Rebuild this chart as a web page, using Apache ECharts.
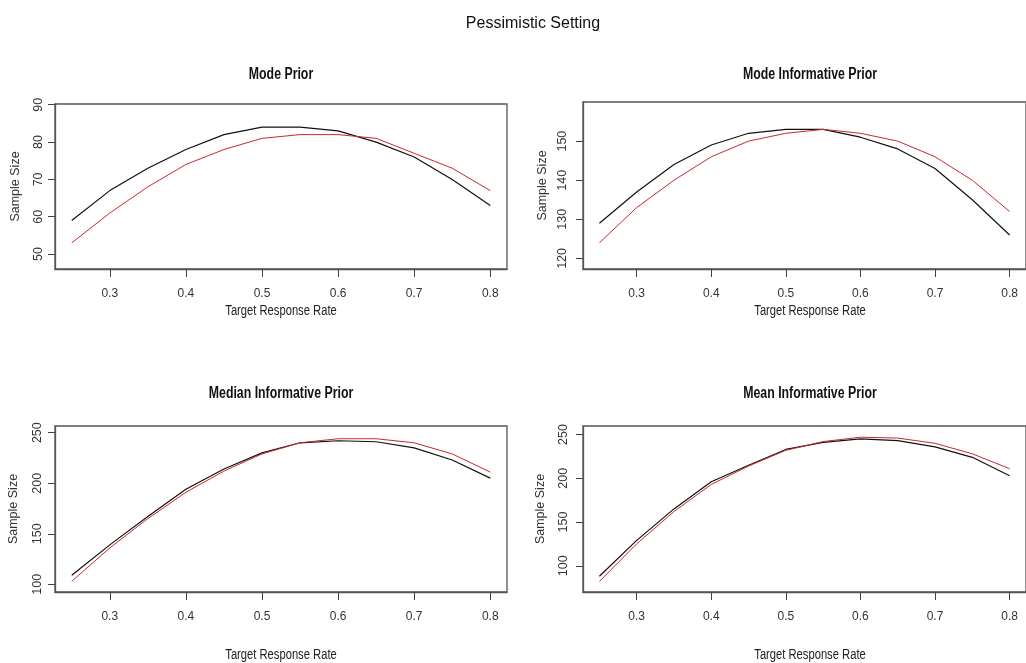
<!DOCTYPE html>
<html>
<head>
<meta charset="utf-8">
<script src="https://cdn.jsdelivr.net/npm/echarts@6/dist/echarts.min.js"></script>
<style>
html,body{margin:0;padding:0;background:#fff;}
#c{width:1026px;height:663px;}
</style>
</head>
<body>
<div id="c"></div>
<script>
// ---- data ----
const rates = [0.25, 0.30, 0.35, 0.40, 0.45, 0.50, 0.55, 0.60, 0.65, 0.70, 0.75, 0.80];
const xTicks = [0.3, 0.4, 0.5, 0.6, 0.7, 0.8];

const modeBlack = [59, 67, 73, 78, 82, 84, 84, 83, 80, 76, 70, 63];
const modeRed   = [53, 61, 68, 74, 78, 81, 82, 82, 81, 77, 73, 67];

const modeInfBlack = [129, 137, 144, 149, 152, 153, 153, 151, 148, 143, 135, 126];
const modeInfRed   = [124, 133, 140, 146, 150, 152, 153, 152, 150, 146, 140, 132];

const medianInfBlack = [109, 139, 167, 194, 214, 230, 240, 242, 241, 235, 223, 205];
const medianInfRed   = [103, 136, 165, 191, 212, 229, 240, 244, 244, 240, 229, 211];

const meanInfBlack = [88, 129, 165, 196, 215, 233, 241, 245, 243, 236, 224, 203];
const meanInfRed   = [82, 125, 162, 193, 214, 232, 242, 247, 246, 240, 228, 211];

const mainTitle = 'Pessimistic Setting';
const panelTitles = ['Mode Prior', 'Mode Informative Prior', 'Median Informative Prior', 'Mean Informative Prior'];
const yTicks = [[50, 60, 70, 80, 90], [120, 130, 140, 150], [100, 150, 200, 250], [100, 150, 200, 250]];
const xName = 'Target Response Rate';
const yName = 'Sample Size';

// ---- layout ----
const panels = [
  {black: modeBlack, red: modeRed, left: 55, top: 104, width: 452, height: 165, ymin: 46, ymax: 90.2, cx: 281, titleY: 75, xNameY: 311, lblMargin: 10, nameGap: 33},
  {black: modeInfBlack, red: modeInfRed, left: 583, top: 102, width: 451, height: 167, ymin: 117.3, ymax: 160, cx: 810, titleY: 75, xNameY: 311, lblMargin: 14, nameGap: 34},
  {black: medianInfBlack, red: medianInfRed, left: 55, top: 426, width: 452, height: 166, ymin: 92.4, ymax: 256.6, cx: 281, titleY: 394, xNameY: 655, lblMargin: 11, nameGap: 35},
  {black: meanInfBlack, red: meanInfRed, left: 583, top: 426, width: 451, height: 166, ymin: 70, ymax: 259.8, cx: 810, titleY: 394, xNameY: 655, lblMargin: 13, nameGap: 36}
];

const REG = '"Liberation Sans", Arial, sans-serif';
const AX = '#444';

const grid = [], xAxis = [], yAxis = [], series = [];
const graphic = [{
  type: 'text', x: 533, y: 24, silent: true,
  style: {text: mainTitle, font: '16px ' + REG, fill: '#111', align: 'center', verticalAlign: 'middle'}
}];

panels.forEach((p, i) => {
  grid.push({left: p.left, top: p.top, width: p.width, height: p.height, show: true, borderColor: '#555', borderWidth: 1.3, backgroundColor: 'transparent', containLabel: false});
  graphic.push({
    type: 'text', x: p.cx, y: p.titleY, scaleX: 0.77, silent: true,
    style: {text: panelTitles[i], font: 'bold 16px ' + REG, fill: '#111', align: 'center', verticalAlign: 'middle'}
  });
  graphic.push({
    type: 'text', x: p.cx, y: p.xNameY, scaleX: 0.8, silent: true,
    style: {text: xName, font: '14px ' + REG, fill: '#222', align: 'center', verticalAlign: 'middle'}
  });
  xAxis.push({
    type: 'value', gridIndex: i, min: 0.228, max: 0.822,
    axisLine: {show: true, onZero: false, lineStyle: {color: '#555', width: 1.3}},
    axisTick: {show: true, inside: false, length: 8, customValues: xTicks, lineStyle: {color: AX, width: 1}},
    axisLabel: {show: true, margin: 19, customValues: xTicks, fontFamily: REG, fontSize: 12, color: '#333',
      formatter: v => Number(v).toFixed(1)},
    splitLine: {show: false}
  });
  yAxis.push({
    type: 'value', gridIndex: i, min: p.ymin, max: p.ymax,
    name: yName, nameLocation: 'middle', nameGap: p.nameGap, nameRotate: 90,
    nameTextStyle: {fontFamily: REG, fontSize: 12.5, color: '#333'},
    axisLine: {show: true, onZero: false, lineStyle: {color: '#555', width: 1.3}},
    axisTick: {show: true, inside: false, length: 7, customValues: yTicks[i], lineStyle: {color: AX, width: 1}},
    axisLabel: {show: true, rotate: 90, margin: p.lblMargin, customValues: yTicks[i], fontFamily: REG, fontSize: 12.5, color: '#333'},
    splitLine: {show: false}
  });
  series.push({
    type: 'line', xAxisIndex: i, yAxisIndex: i, showSymbol: false, symbol: 'none', silent: true,
    data: rates.map((x, k) => [x, p.black[k]]),
    lineStyle: {color: '#111', width: 1.2}, itemStyle: {color: '#111'}
  });
  series.push({
    type: 'line', xAxisIndex: i, yAxisIndex: i, showSymbol: false, symbol: 'none', silent: true,
    data: rates.map((x, k) => [x, p.red[k]]),
    lineStyle: {color: '#c42a2f', width: 1}, itemStyle: {color: '#c42a2f'}
  });
});

const chart = echarts.init(document.getElementById('c'), null, {renderer: 'canvas'});
chart.setOption({
  animation: false,
  backgroundColor: '#fff',
  grid, xAxis, yAxis, series, graphic
});
</script>
</body>
</html>
